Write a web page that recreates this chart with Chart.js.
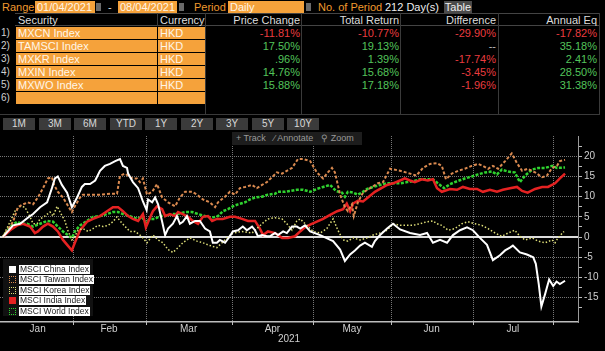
<!DOCTYPE html>
<html>
<head>
<meta charset="utf-8">
<script src="https://cdn.jsdelivr.net/npm/chart.js@4.4.1/dist/chart.umd.min.js"></script>
<style>
  html, body { margin:0; padding:0; background:#000; width:605px; height:351px; overflow:hidden;
    font-family:"Liberation Sans", Arial, sans-serif; font-size:11px; }
  .a { position:absolute; white-space:nowrap; line-height:12px; }
  .lbl { color:#f0992e; }
  .fld { background:#f5a23b; color:#fff6e8; height:12px; padding-left:2px; box-sizing:border-box; }
  .ico { background:#6a6a6a; width:5px; height:8px; }
  .hd { color:#dcdcdc; top:14px; }
  .num { color:#cfcfcf; font-size:10px; left:1px; }
  .val { text-align:right; }
  .red { color:#ea3c3f; }
  .grn { color:#53c45b; }
  .btn { background:#3b3b3b; color:#d8d8d8; font-size:10px; text-align:center; height:12px; top:118px; width:32px; }
  .vl { position:absolute; width:1px; background:#3a3a3a; top:13px; height:101px; }
  #chartBox { position:absolute; left:0; top:128px; width:605px; height:223px; }
  #tools { position:absolute; left:232px; top:132px; width:130px; height:13px; background:#1d1d1d;
    color:#9a9a9a; font-size:9px; line-height:13px; }
  #legend { position:absolute; left:3px; top:259px; width:90px; height:57px; background:#111; }
  .li { position:absolute; left:0; height:9px; }
  .mk { position:absolute; left:6px; top:1px; width:7px; height:7px; box-sizing:border-box; }
  .lt { position:absolute; left:16px; top:0; background:#fff; color:#1a1a1a; font-size:8.5px;
    line-height:9px; height:9px; padding:0 1px; white-space:nowrap; }
</style>
</head>
<body>
<!-- top bar -->
<div class="a lbl" style="left:2px;top:1px">Range</div>
<div class="a fld" style="left:35px;top:1px;width:60px">01/04/2021</div>
<div class="a ico" style="left:96px;top:3px"></div>
<div class="a" style="left:108px;top:1px;color:#ddd">-</div>
<div class="a fld" style="left:118px;top:1px;width:59px">08/04/2021</div>
<div class="a ico" style="left:179px;top:3px"></div>
<div class="a lbl" style="left:194px;top:1px">Period</div>
<div class="a fld" style="left:228px;top:1px;width:76px">Daily</div>
<div class="a ico" style="left:306px;top:3px"></div>
<div class="a lbl" style="left:318px;top:1px">No. of Period</div>
<div class="a" style="left:385px;top:1px;color:#eee">212 Day(s)</div>
<div class="a" style="left:444px;top:1px;width:28px;background:#4a4a4a;color:#eee;text-align:center">Table</div>

<!-- table header -->
<div style="position:absolute;left:15px;top:13px;width:585px;height:13px;border-top:1px solid #444;border-bottom:1px solid #444;box-sizing:border-box"></div>
<div class="vl" style="left:157px;height:13px"></div>
<div class="vl" style="left:205px"></div>
<div class="vl" style="left:301px"></div>
<div class="vl" style="left:400px"></div>
<div class="vl" style="left:498px"></div>
<div class="vl" style="left:599px"></div>
<div style="position:absolute;left:0;top:114px;width:600px;height:1px;background:#3a3a3a"></div>
<div class="a hd" style="left:18px">Security</div>
<div class="a hd" style="left:160px">Currency</div>
<div class="a hd val" style="left:220px;width:80px">Price Change</div>
<div class="a hd val" style="left:320px;width:79px">Total Return</div>
<div class="a hd val" style="left:420px;width:76px">Difference</div>
<div class="a hd val" style="left:520px;width:77px">Annual Eq</div>

<div id="rows"></div>

<!-- period buttons -->
<div id="btns"></div>

<div id="chartBox"><canvas id="c" width="605" height="223"></canvas></div>
<div id="tools"><span style="margin-left:4px">+ Track</span><span style="margin-left:8px">&#8260; Annotate</span><span style="margin-left:8px">&#9906; Zoom</span></div>
<div id="legend"></div>

<script>
// ---- table data ----
const securities = ['MXCN Index', 'TAMSCI Index', 'MXKR Index', 'MXIN Index', 'MXWO Index', ''];
const currencies = ['HKD', 'HKD', 'HKD', 'HKD', 'HKD', ''];
const priceChange = ['-11.81%', '17.50%', '.96%', '14.76%', '15.88%'];
const totalReturn = ['-10.77%', '19.13%', '1.39%', '15.68%', '17.18%'];
const difference = ['-29.90%', '--', '-17.74%', '-3.45%', '-1.96%'];
const annualEq = ['-17.82%', '35.18%', '2.41%', '28.50%', '31.38%'];
const periods = ['1M', '3M', '6M', 'YTD', '1Y', '2Y', '3Y', '5Y', '10Y'];

// ---- chart data (x = trading day since 04/01/2021, y = % return) ----
const seriesNames = ['MSCI China Index', 'MSCI Taiwan Index', 'MSCI Korea Index', 'MSCI India Index', 'MSCI World Index'];
const monthLabels = ['Jan', 'Feb', 'Mar', 'Apr', 'May', 'Jun', 'Jul'];
const monthStarts = [0, 18.9, 38.6, 61.9, 83.9, 104.9, 127, 148.8];
const yTickLabels = [-20, -15, -10, -5, 0, 5, 10, 15, 20];

const china = [[0,0],[2.8,2.9],[4.7,3.3],[7.4,5.2],[8.2,5.7],[10.1,7.4],[12,8.6],[13.3,12.1],[14.1,14.5],[14.9,15],[16,12.9],[17.4,11],[18.7,7.4],[20.1,9.8],[21.4,12.4],[22.2,13.1],[23.6,13.1],[25,14],[26.3,16.4],[27.6,17.6],[29,18.1],[30.4,18.8],[31.7,19.3],[32.5,17.6],[33.6,17.1],[33.9,15.7],[35.2,13.6],[36.6,12.1],[37.9,8.8],[38.9,6.7],[39.3,9.3],[40.4,8.6],[41.2,9.8],[42,8.1],[43.1,3.8],[43.9,0.5],[44.7,2.1],[46,3.3],[47.1,5.2],[47.9,3.3],[48.7,3.8],[49.8,5.2],[50.6,3.3],[52,4],[53.3,4],[54.7,2.1],[56,1.4],[56.8,-1.4],[57.9,-1.4],[58.7,-0.7],[60.1,-1.4],[61.4,0.2],[62.2,1.4],[63.6,1.7],[64.9,2.6],[66,1.7],[67.4,2.6],[68.2,1.7],[69,0.2],[70.1,0.5],[71.4,0.2],[72.2,0.2],[73.6,1],[74.4,0.5],[75.8,1.4],[76.8,1],[78.2,2.6],[79.5,2.6],[80.4,2.1],[81.7,2.9],[83.1,1.4],[85.8,0.5],[89.3,-1],[91.2,-3.1],[92.5,-5.9],[93.9,-4.3],[95.2,-3.3],[96.6,-2.1],[97.9,-1.4],[99.8,-2.4],[100.6,-1],[102,0.5],[103.9,2.1],[105.5,3.3],[107.4,1.9],[110.1,1],[112.8,0.5],[114.7,1],[116.3,-1.4],[118.2,-0.7],[120.1,-1.4],[121.7,0.5],[123.6,1.7],[125.5,2.4],[127.1,1.7],[129,-0.2],[130.9,-1.9],[132.5,-5.7],[134.4,-4.5],[135.8,-3.3],[137.1,-2.6],[137.9,-2.1],[139.8,-3.8],[141.7,-4.3],[143.4,-5],[144.1,-6.6],[144.9,-11.7],[145.6,-17.2],[146.6,-14.1],[147.7,-10.5],[148.8,-12.1],[149.7,-11],[150.6,-11.6],[152,-10.8]];
const taiwan = [[0,0],[2.8,3.8],[4.1,7.4],[5.5,8.1],[6.8,8.6],[8.2,8.1],[9.5,9.8],[10.9,12.1],[12.2,14.5],[13.3,14.8],[13.9,12.9],[14.9,11.2],[16.3,9.8],[17.4,8.1],[18.7,6.2],[19.5,7.6],[20.9,9.8],[21.7,10.5],[23.6,10.5],[26.3,10.5],[29,10.7],[30.9,10.7],[31.7,15.2],[33.1,15.7],[34.4,14.8],[35.2,14.5],[36.3,14.5],[37.1,13.6],[37.9,14.5],[39,10.5],[40.4,11.2],[41.7,13.1],[43.1,9.8],[44.7,8.6],[46.6,7.6],[47.9,9.8],[49.3,11.2],[51.2,11.2],[52.5,10.5],[54.1,9.3],[56,8.6],[57.4,7.4],[58.2,8.6],[60.1,10],[61.4,11.2],[62.8,10.5],[64.1,12.1],[65.5,12.4],[67.4,12.9],[68.7,12.1],[70.1,12.9],[71.4,13.6],[72.8,14.8],[74.1,16],[75.5,15.7],[76.8,16.4],[78.2,17.1],[79.8,19.3],[81.2,19.3],[83.1,18.8],[84.9,16],[86.6,14.5],[87.9,16],[89,17.1],[89.8,16],[91.2,10.5],[92.5,7.4],[93.3,6.4],[94.4,8.1],[94.9,5.2],[96,8.6],[97.4,11],[99.3,12.1],[101.4,13.3],[102.8,13.6],[104.7,16.9],[107.4,16.4],[110.1,15.7],[111.8,15.2],[113.6,17.1],[115.5,18.1],[117.4,18.3],[118.7,17.6],[119.8,14.3],[121.4,15.7],[123.1,16.4],[124.9,16.9],[126.8,17.6],[128.5,18.1],[129.8,17.6],[131.2,16.9],[132.5,17.6],[133.9,16.9],[135.8,18.8],[137.6,20.7],[139,18.3],[140.4,16.4],[141.9,16.9],[143.9,16],[145.8,14.8],[147.1,15.2],[148.5,17.1],[149.8,17.6],[150.6,18.8],[152,19.1]];
const korea = [[0,0],[2,3.8],[3.3,6.4],[4.7,7.6],[6,7.4],[7.4,5],[8.2,3.3],[9.3,3.3],[10.1,4.5],[11.4,5.2],[12.8,6.2],[13.6,5.2],[14.7,7.6],[15.5,6.2],[16.8,4],[17.6,1.7],[18.7,-0.7],[19.5,0.2],[20.4,1.7],[21.7,2.1],[23.1,1.4],[24.4,2.1],[25.8,2.9],[27.1,2.6],[28.5,2.9],[29.8,3.8],[30.9,5],[31.7,4],[33.1,2.6],[34.4,1.4],[35.8,1.4],[37.1,0.5],[37.9,-0.2],[39,-1.4],[40.6,0.5],[42,-0.7],[43.3,-1.4],[44.7,-3.1],[46,-3.8],[47.4,-2.6],[48.7,-1.4],[50.6,-0.2],[52.5,-1],[54.1,-1.4],[56,-2.1],[57.9,-2.6],[59.3,-1.4],[60.6,-0.2],[62.2,1],[64.7,1.4],[67.4,1],[70.1,3.3],[71.7,4.5],[73.6,4.8],[75.5,4.5],[76.8,3.3],[78.2,1.7],[79.5,4],[80.4,4.5],[82.2,2.9],[83.9,1.4],[85.8,1],[87.6,2.1],[89.3,4.5],[90.6,1.7],[92,-0.7],[93.3,-1],[94.7,-0.2],[96.6,-0.7],[98.5,-0.2],[100.1,0.5],[102,1],[103.9,1.7],[105.5,3.3],[107.4,2.9],[109.3,2.9],[110.9,2.9],[112.8,3.3],[114.7,3.8],[116.3,4],[117.4,3.3],[118.7,2.9],[120.4,1.7],[122.2,2.1],[124.1,3.3],[125.8,3.8],[127.6,3.3],[129.5,2.9],[131.2,2.1],[133.1,1],[134.9,0.2],[136.6,1],[138.4,1.7],[139.8,0.2],[141.2,-0.7],[143.1,-0.2],[144.7,-1],[146.6,-1.4],[148.5,-0.7],[149.3,-1.4],[150.1,-0.2],[151.7,1.4]];
const india = [[0,0],[2,1.7],[3.9,2.9],[5.5,3.3],[7.4,2.6],[8.7,1],[9.5,1.4],[10.9,2.6],[12.2,3.3],[13.6,2.6],[14.9,1.4],[16.3,-0.7],[17.6,-2.1],[18.7,-3.3],[19.5,-1.4],[20.9,1.7],[22.8,3.8],[24.4,4.5],[26.3,5.2],[28.2,6.4],[29.8,7.4],[31.2,7.4],[32.5,6.4],[33.9,5.2],[35.2,4.5],[36.6,4],[37.9,5.7],[38.7,2.4],[39.8,4.8],[40.6,6.4],[41.7,7.6],[43.1,6.9],[43.9,5.2],[45.2,5.7],[46.6,5.2],[47.4,6.2],[48.7,5.7],[50.1,5],[51.4,4],[52.8,3.3],[54.1,5],[55.5,5.2],[56.6,4],[57.9,4.5],[59.5,4.5],[61.4,5],[62.8,5],[64.7,4.5],[66.3,4],[68.2,4],[69.5,2.1],[70.4,0.5],[71.7,1.4],[73.6,1],[75.5,-0.2],[77.1,-0.2],[79,0.2],[80.4,1.4],[81.7,2.4],[83.1,3.1],[84.9,3.8],[86.6,4.5],[88.5,5.5],[90.4,6.4],[92,6.9],[93,8.3],[93.9,6.4],[94.7,8.3],[96,9],[97.4,8.8],[99.3,10.2],[100.6,11.2],[102,11.9],[103.9,12.9],[105.5,13.3],[107.4,14],[108.7,14.5],[110.1,14],[111.4,13.6],[113.3,14.3],[114.9,14],[116.3,14.3],[117.4,12.1],[118.7,11.2],[120.9,11.9],[122.8,11.7],[124.4,12.4],[126.3,11.9],[128.2,11.9],[129.8,11.2],[131.7,11.7],[133.6,11.2],[135.2,11.7],[137.1,12.1],[139,12.4],[140.4,11.4],[141.9,11],[143.9,11.9],[145.8,12.4],[147.4,12.4],[149.3,13.3],[150.6,14.5],[152,15.7]];
const world = [[0,0],[2,2.6],[3.9,3.8],[5.2,3.3],[6.6,3.3],[8.2,2.6],[10.1,3.3],[12,4],[13.6,3.8],[14.9,2.6],[16.3,1.4],[17.6,0.5],[18.7,-0.2],[19.5,1.4],[20.9,2.9],[22.8,4],[24.4,5],[26.3,5.2],[28.2,5.7],[29.8,6.2],[31.2,6.2],[32.5,5.7],[34.4,5.2],[36.3,4.5],[37.6,5],[38.7,3.6],[39.8,4.5],[41.2,4.5],[42.5,5.2],[43.9,5.2],[45.8,5.7],[47.4,5.7],[49.3,6.2],[51.2,6.2],[52.8,5.7],[54.7,5.2],[56.6,4.8],[58.2,5.2],[59.5,6.4],[60.9,6.9],[62.2,7.6],[63.6,8.1],[65.5,8.6],[66.8,9.3],[68.2,9.8],[70.1,10],[71.7,10.5],[73.6,10.7],[74.4,11.2],[76.3,11.2],[77.6,11.4],[79.5,11.7],[81.2,11.7],[83.1,11.2],[84.9,11.9],[86.6,12.4],[88.5,12.9],[90.1,11.4],[91.7,11],[92.5,10],[93.3,11.2],[94.7,11],[96,10.5],[97.1,11],[98.5,11.9],[100.1,12.4],[102,12.9],[103.9,13.3],[105.5,13.3],[107.4,13.3],[109.3,13.6],[110.9,13.8],[112.8,14.3],[114.7,14.3],[116.3,14.3],[117.6,13.3],[119.3,12.1],[120.9,13.1],[122.8,13.8],[124.9,14.5],[126.8,15],[128.5,15.5],[130.4,16],[132.2,16.2],[133.6,15.5],[134.9,16.7],[136.6,16.2],[138.4,16],[139.8,13.6],[141.2,15.2],[143.1,16.7],[144.7,17.1],[146.6,17.1],[148.5,17.6],[149.8,17.1],[152,17.2]];

// ---- build the table ----
const rowsEl = document.getElementById('rows');
function cell(cls, style, text) {
  const d = document.createElement('div');
  d.className = 'a ' + cls;
  d.setAttribute('style', style);
  d.textContent = text;
  rowsEl.appendChild(d);
}
function tone(s) { return s.startsWith('-') && s !== '--' ? 'red' : (s === '--' ? '' : 'grn'); }
securities.forEach((sec, i) => {
  const top = Math.round(27 + 12.9 * i);
  cell('num', `top:${top}px`, (i + 1) + ')');
  cell('fld', `left:16px;top:${top}px;width:141px`, sec);
  cell('fld', `left:158px;top:${top}px;width:47px`, currencies[i]);
  if (i < priceChange.length) {
    cell('val ' + tone(priceChange[i]), `left:220px;top:${top}px;width:80px`, priceChange[i]);
    cell('val ' + tone(totalReturn[i]), `left:320px;top:${top}px;width:79px`, totalReturn[i]);
    cell('val ' + tone(difference[i]), `left:420px;top:${top}px;width:76px;color:${difference[i]==='--'?'#bbb':''}`, difference[i]);
    cell('val ' + tone(annualEq[i]), `left:520px;top:${top}px;width:77px`, annualEq[i]);
  }
});
const btnEl = document.getElementById('btns');
periods.forEach((p, i) => {
  const b = document.createElement('div');
  b.className = 'a btn';
  b.style.left = Math.round(3 + 35.5 * i) + 'px';
  b.textContent = p;
  btnEl.appendChild(b);
});

// ---- chart ----
Chart.defaults.font.family = '"Liberation Sans", Arial, sans-serif';
Chart.defaults.font.size = 10;
Chart.defaults.color = '#cfcfcf';

const monthMids = monthLabels.map((m, i) => (monthStarts[i] + monthStarts[i + 1]) / 2);
const boundaries = monthStarts.slice(1);

const styles = [
  { color: '#ffffff', width: 2, dash: [] },
  { color: '#d9894f', width: 2, dash: [3, 2] },
  { color: '#dede78', width: 1.5, dash: [1.5, 2] },
  { color: '#e52222', width: 2.5, dash: [] },
  { color: '#2fd12f', width: 2.5, dash: [3, 1.5] }
];
const values = [china, taiwan, korea, india, world];

// solid zero line + dotted month separators, placed with the chart's own scales
const guides = {
  id: 'guides',
  beforeDatasetsDraw(c) {
    const { ctx, chartArea: a, scales: { x, y } } = c;
    ctx.save();
    ctx.strokeStyle = '#767676';
    ctx.lineWidth = 1;
    ctx.setLineDash([1, 1]);
    boundaries.forEach(b => {
      const px = Math.round(x.getPixelForValue(b)) + 0.5;
      ctx.beginPath();
      ctx.moveTo(px, a.top);
      ctx.lineTo(px, a.bottom);
      ctx.stroke();
    });
    ctx.setLineDash([]);
    ctx.strokeStyle = '#bdbdbd';
    boundaries.forEach(b => {
      const px = Math.round(x.getPixelForValue(b)) + 0.5;
      ctx.beginPath();
      ctx.moveTo(px, a.bottom);
      ctx.lineTo(px, a.bottom + 3);
      ctx.stroke();
    });
    const zy = y.getPixelForValue(0);
    ctx.strokeStyle = '#dcdcdc';
    ctx.lineWidth = 2;
    ctx.beginPath();
    ctx.moveTo(a.left, zy);
    ctx.lineTo(a.right, zy);
    ctx.stroke();
    ctx.restore();
  }
};

const chart = new Chart(document.getElementById('c'), {
  type: 'line',
  data: {
    datasets: values.map((v, i) => ({
      label: seriesNames[i],
      data: v.map(p => ({ x: p[0], y: p[1] })),
      borderColor: styles[i].color,
      borderWidth: styles[i].width,
      borderDash: styles[i].dash,
      pointRadius: 0,
      tension: 0,
      fill: false
    }))
  },
  options: {
    responsive: false,
    animation: false,
    layout: { padding: { left: 0, right: 0, top: 1, bottom: 0 } },
    plugins: { legend: { display: false }, tooltip: { enabled: false } },
    scales: {
      x: {
        type: 'linear',
        min: -0.73,
        max: 155.5,
        afterFit: s => { s.height = 29; },
        afterBuildTicks: s => { s.ticks = monthMids.map(v => ({ value: v })); },
        ticks: {
          autoSkip: false, maxRotation: 0, padding: 1,
          callback: (v, i) => monthLabels[i]
        },
        grid: { drawOnChartArea: false, drawTicks: false },
        border: { color: '#bdbdbd', width: 1.5 },
        title: { display: true, text: '2021', color: '#cfcfcf', font: { size: 10 }, padding: { top: 0, bottom: 6 } }
      },
      y: {
        position: 'right',
        min: -21,
        max: 25,
        afterFit: s => { s.width = 27; },
        ticks: {
          stepSize: 2.5, padding: 2, autoSkip: false,
          callback: v => yTickLabels.includes(v) ? String(v) : ''
        },
        grid: {
          color: c => (c.tick && yTickLabels.includes(c.tick.value) && c.tick.value !== 0) ? '#767676' : 'transparent',
          tickColor: c => (c.tick && c.tick.value >= -20 && c.tick.value <= 22.5) ? '#bdbdbd' : 'transparent',
          tickLength: 4
        },
        border: { color: '#9a9a9a', width: 1, dash: [1, 1] }
      }
    }
  },
  plugins: [guides]
});

// ---- legend ----
const legendEl = document.getElementById('legend');
chart.data.datasets.forEach((ds, i) => {
  const item = document.createElement('div');
  item.className = 'li';
  item.style.top = Math.round(6 + 10.4 * i) + 'px';
  const mk = document.createElement('div');
  mk.className = 'mk';
  if (ds.borderDash.length) {
    mk.style.border = '1px dotted ' + ds.borderColor;
  } else {
    mk.style.background = ds.borderColor;
  }
  const lt = document.createElement('div');
  lt.className = 'lt';
  lt.textContent = ds.label;
  item.appendChild(mk);
  item.appendChild(lt);
  legendEl.appendChild(item);
});
</script>
</body>
</html>
